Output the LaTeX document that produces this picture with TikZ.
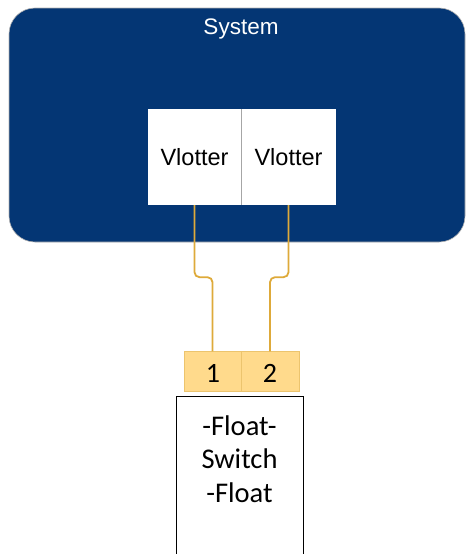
\documentclass[tikz,border=0pt]{standalone}
\usepackage{fontspec}
\setmainfont{Liberation Sans}
\newfontfamily\calib{Carlito}
\definecolor{sysblue}{RGB}{4,54,116}
\definecolor{wirecol}{RGB}{222,170,58}
\definecolor{pinfill}{RGB}{255,218,140}
\definecolor{pinline}{RGB}{236,196,110}
\begin{document}
\begin{tikzpicture}[x=1pt,y=-1pt,
  sysbox/.style={fill=sysblue,draw=gray!60,line width=0.6pt,rounded corners=26pt,minimum width=456pt,minimum height=234pt,inner sep=0pt},
  vbox/.style={fill=white,minimum width=93pt,minimum height=96pt,inner sep=0pt,font=\fontsize{23.5}{27}\selectfont},
  pin/.style={fill=pinfill,draw=pinline,line width=0.6pt,minimum height=40pt,inner sep=0pt,font=\calib\fontsize{28}{32}\selectfont},
  fsbox/.style={fill=white,draw=black,line width=1pt,minimum width=127pt,minimum height=180pt,inner sep=0pt},
  fstext/.style={anchor=base,font=\calib\fontsize{28.5}{33}\selectfont},
  wire/.style={draw=wirecol,line width=1.8pt,rounded corners=5pt}]
\useasboundingbox (0,0) rectangle (466,554);
\clip (0,0) rectangle (466,554);
\node[sysbox] (sys) at (237,125) {};
\node[anchor=base,text=white,font=\fontsize{22.5}{26}\selectfont] (title) at (241,34) {System};
\node[vbox,minimum width=93pt] (v1) at (194.5,157) {Vlotter};
\node[vbox,minimum width=95pt] (v2) at (288.5,157) {Vlotter};
\draw[gray!70,line width=0.8pt] (v1.north east) -- (v1.south east);
\node[pin,minimum width=57pt,anchor=south] (p1) at (212.5,392) {};
\node[pin,minimum width=58pt,anchor=south] (p2) at (270,392) {};
\node[anchor=base,font=\calib\fontsize{28}{32}\selectfont] (l1) at (213,382.5) {1};
\node[anchor=base,font=\calib\fontsize{28}{32}\selectfont] (l2) at (270,382.5) {2};
\node[fsbox,anchor=north] (fs) at (239.5,396) {};
\node[fstext] (t1) at (239.5,435) {-Float-};
\node[fstext] (t2) at (239.5,468.5) {Switch};
\node[fstext] (t3) at (239.5,502) {-Float};
\draw[wire] (v1.south) -- ++(0,72) -| (p1.north);
\draw[wire] (v2.south) -- ++(0,72) -| (p2.north);
\end{tikzpicture}
\end{document}
